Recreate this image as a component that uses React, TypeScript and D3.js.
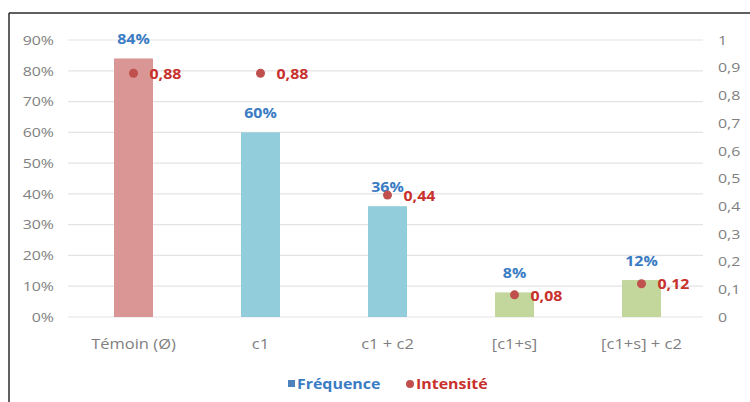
import React from "react";
import * as d3 from "d3";

// Treatments along the x axis
const categories = ["Témoin (Ø)", "c1", "c1 + c2", "[c1+s]", "[c1+s] + c2"];
// Frequency of attack (left axis, share of plants)
const frequence = [0.84, 0.6, 0.36, 0.08, 0.12];
// Intensity index (right axis)
const intensite = [0.88, 0.88, 0.44, 0.08, 0.12];
// Bar fill per treatment
const barColors = ["#d99694", "#92cddc", "#92cddc", "#c3d69b", "#c3d69b"];
// Axis ticks
const leftTicks = [0, 0.1, 0.2, 0.3, 0.4, 0.5, 0.6, 0.7, 0.8, 0.9];
const rightTicks = [0, 0.1, 0.2, 0.3, 0.4, 0.5, 0.6, 0.7, 0.8, 0.9, 1];

const W = 750;
const H = 402;
const FONT = "'Open Sans', 'Liberation Sans', sans-serif";
const BLUE = "#3a7cc4";
const RED = "#c8312d";
const DOT = "#c0504d";
const AXIS_TEXT = "#7f7f7f";
const STRETCH = 1.18;

type LabelProps = {
  x: number;
  y: number;
  anchor?: "start" | "middle" | "end";
  size?: number;
  bold?: boolean;
  fill: string;
  children: React.ReactNode;
};

// Text drawn with a slightly wide set, vertically centred on y
function Label({ x, y, anchor = "start", size = 13.5, bold = false, fill, children }: LabelProps) {
  return (
    <text
      transform={`translate(${x},${y}) scale(${STRETCH},1)`}
      dy="0.35em"
      textAnchor={anchor}
      fontSize={size}
      fontWeight={bold ? 700 : 400}
      fill={fill}
    >
      {children}
    </text>
  );
}

export default function App() {
  const x = d3
    .scaleBand<string>()
    .domain(categories)
    .range([70, 705])
    .paddingInner(0.693)
    .paddingOuter(0.3465);
  const yLeft = d3.scaleLinear().domain([0, 0.9]).range([317, 40]);
  const yRight = d3.scaleLinear().domain([0, 1]).range([317, 40]);
  const pct = d3.format(".0%");
  const dec = (v: number) => String(v).replace(".", ",");
  const mid = (c: string) => (x(c) as number) + x.bandwidth() / 2;

  return (
    <div style={{ position: "absolute", left: 0, top: 0 }}>
      <svg width={W} height={H} style={{ display: "block", background: "#fff" }} fontFamily={FONT}>
        {/* frame */}
        <line x1={9} y1={13} x2={W} y2={13} stroke="#2b2b2b" strokeWidth={1.5} />
        <line x1={9} y1={13} x2={9} y2={H} stroke="#2b2b2b" strokeWidth={1.5} />

        {/* gridlines */}
        {leftTicks.map((t) => (
          <line key={"g" + t} x1={68} x2={703} y1={yLeft(t)} y2={yLeft(t)} stroke="#e3e3e3" strokeWidth={1.2} />
        ))}

        {/* left axis labels */}
        {leftTicks.map((t) => (
          <Label key={"l" + t} x={54} y={yLeft(t)} anchor="end" fill={AXIS_TEXT}>
            {pct(t)}
          </Label>
        ))}

        {/* right axis labels */}
        {rightTicks.map((t) => (
          <Label key={"r" + t} x={718} y={yRight(t)} fill={AXIS_TEXT}>
            {dec(t)}
          </Label>
        ))}

        {/* bars */}
        {categories.map((c, i) => (
          <rect
            key={"b" + c}
            x={x(c)}
            y={yLeft(frequence[i])}
            width={x.bandwidth()}
            height={yLeft(0) - yLeft(frequence[i])}
            fill={barColors[i]}
          />
        ))}

        {/* frequency labels */}
        {categories.map((c, i) => (
          <Label key={"fl" + c} x={mid(c)} y={yLeft(frequence[i]) - 19} anchor="middle" bold fill={BLUE}>
            {pct(frequence[i])}
          </Label>
        ))}

        {/* intensity points */}
        {categories.map((c, i) => {
          const cx = mid(c);
          const cy = yRight(intensite[i]);
          return (
            <g key={"p" + c}>
              <circle cx={cx} cy={cy} r={4.5} fill={DOT} />
              <Label x={cx + 16} y={cy + 1} bold fill={RED}>
                {dec(intensite[i])}
              </Label>
            </g>
          );
        })}

        {/* category labels */}
        {categories.map((c) => (
          <Label key={"x" + c} x={mid(c)} y={344} anchor="middle" size={14} fill={AXIS_TEXT}>
            {c}
          </Label>
        ))}

        {/* legend */}
        <rect x={288} y={380} width={7} height={7} fill="#4f81bd" />
        <Label x={297} y={384} bold fill={BLUE}>
          Fréquence
        </Label>
        <circle cx={410} cy={384} r={4} fill={DOT} />
        <Label x={416} y={384} bold fill={RED}>
          Intensité
        </Label>
      </svg>
    </div>
  );
}
